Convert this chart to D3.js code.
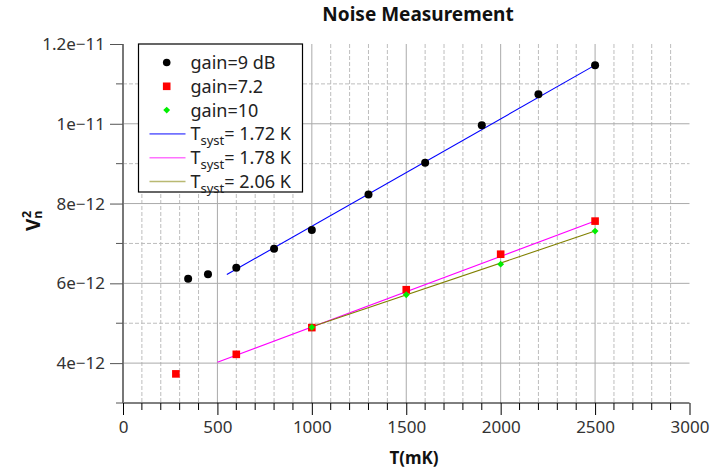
<!DOCTYPE html>
<html><head><meta charset="utf-8">
<script src="https://cdn.jsdelivr.net/npm/d3@7"></script>
<style>body{margin:0;background:#fff}svg{display:block;font-family:"Noto Sans",sans-serif}</style>
</head><body><svg id="c" width="727" height="476"></svg>
<script>
// ---- data ----
const blackT = [345, 450, 600, 800, 1000, 1300, 1600, 1900, 2200, 2500];
const blackV = [6.115e-12, 6.225e-12, 6.39e-12, 6.865e-12, 7.34e-12, 8.225e-12, 9.025e-12, 9.96e-12, 10.74e-12, 11.465e-12];
const redT = [280, 600, 1000, 1500, 2000, 2500];
const redV = [3.73e-12, 4.22e-12, 4.89e-12, 5.84e-12, 6.73e-12, 7.56e-12];
const greenT = [1000, 1500, 2000, 2500];
const greenV = [4.9e-12, 5.715e-12, 6.48e-12, 7.31e-12];
const fitBlueT = [550, 2500];
const fitBlueV = [6.22e-12, 11.47e-12];
const fitPinkT = [500, 2500];
const fitPinkV = [4.02e-12, 7.56e-12];
const fitOliveT = [1000, 2500];
const fitOliveV = [4.91e-12, 7.31e-12];
const xMajor = [0, 500, 1000, 1500, 2000, 2500, 3000];
const yMajor = [4e-12, 6e-12, 8e-12, 10e-12, 12e-12];
const yMajorLabels = ["4e\u221212", "6e\u221212", "8e\u221212", "1e\u221211", "1.2e\u221211"];
const yMinor = [3e-12, 5e-12, 7e-12, 9e-12, 11e-12];
const legendLabels = ["gain=9 dB", "gain=7.2", "gain=10", "1.72 K", "1.78 K", "2.06 K"];

const svg = d3.select("#c");
const x = d3.scaleLinear().domain([0, 3000]).range([123, 689.5]);
const y = d3.scaleLinear().domain([3e-12, 12e-12]).range([403, 44]);
const xMinor = d3.range(100, 3000, 100).filter(v => v % 500 !== 0);

// grid
const g = svg.append("g");
g.selectAll(".vmin").data(xMinor).join("line")
  .attr("x1", d => x(d)).attr("x2", d => x(d)).attr("y1", y(12e-12)).attr("y2", y(3e-12))
  .attr("stroke", "#bdbdbd").attr("stroke-dasharray", "4,2");
g.selectAll(".hmin").data(yMinor.slice(1)).join("line")
  .attr("x1", x(0)).attr("x2", x(3000)).attr("y1", d => y(d)).attr("y2", d => y(d))
  .attr("stroke", "#bdbdbd").attr("stroke-dasharray", "4,2");
g.selectAll(".vmaj").data(xMajor.slice(1, -1)).join("line")
  .attr("x1", d => x(d)).attr("x2", d => x(d)).attr("y1", y(12e-12)).attr("y2", y(3e-12))
  .attr("stroke", "#aaaaaa");
g.selectAll(".hmaj").data(yMajor.slice(0, -1)).join("line")
  .attr("x1", x(0)).attr("x2", x(3000)).attr("y1", d => y(d)).attr("y2", d => y(d))
  .attr("stroke", "#aaaaaa");

// axes
const xAx = svg.append("g").attr("transform", `translate(0,${y(3e-12)})`);
xAx.call(d3.axisBottom(x).tickValues(xMajor).tickSize(12).tickPadding(6).tickFormat(d3.format("d")));
xAx.append("g").selectAll("line").data(xMinor).join("line")
  .attr("x1", d => x(d)).attr("x2", d => x(d)).attr("y1", 0).attr("y2", 7).attr("stroke", "#000");
xAx.selectAll("path.domain").attr("stroke", "#000").attr("d", `M${x(0)},0H${x(3000)}`);
xAx.selectAll(".tick line").attr("stroke", "#000");
xAx.selectAll("text").attr("font-size", 17).attr("fill", "#333").attr("font-family", "Noto Sans");

const yAx = svg.append("g").attr("transform", `translate(${x(0)},0)`);
yAx.call(d3.axisLeft(y).tickValues(yMajor).tickSize(13).tickPadding(5).tickFormat((d, i) => yMajorLabels[i]));
yAx.append("g").selectAll("line").data(yMinor).join("line")
  .attr("x1", -7).attr("x2", 0).attr("y1", d => y(d)).attr("y2", d => y(d)).attr("stroke", "#555");
yAx.selectAll("path.domain").attr("stroke", "#777").attr("stroke-width", 2).attr("d", `M0,${y(12e-12)}V${y(3e-12)}`);
yAx.selectAll(".tick line").attr("stroke", "#555");
yAx.selectAll("text").attr("font-size", 17).attr("fill", "#333").attr("font-family", "Noto Sans");

// fit lines
const line = d3.line().x(d => x(d[0])).y(d => y(d[1]));
const fits = [[fitBlueT, fitBlueV, "#0000ff"], [fitPinkT, fitPinkV, "#ff00ff"], [fitOliveT, fitOliveV, "#808000"]];
fits.forEach(([t, v, c]) => {
  svg.append("path").datum(d3.zip(t, v)).attr("d", line).attr("fill", "none").attr("stroke", c).attr("stroke-width", 1.1);
});

// points
svg.append("g").selectAll("circle").data(d3.zip(blackT, blackV)).join("circle")
  .attr("cx", d => x(d[0])).attr("cy", d => y(d[1])).attr("r", 4).attr("fill", "#000");
svg.append("g").selectAll("rect").data(d3.zip(redT, redV)).join("rect")
  .attr("x", d => x(d[0]) - 3.8).attr("y", d => y(d[1]) - 3.8).attr("width", 7.6).attr("height", 7.6).attr("fill", "#ff0000");
const diamond = d3.symbol().type(d3.symbolDiamond2).size(30);
svg.append("g").selectAll("path").data(d3.zip(greenT, greenV)).join("path")
  .attr("transform", d => `translate(${x(d[0])},${y(d[1])})`).attr("d", diamond).attr("fill", "#00ee00");

// legend
const lg = svg.append("g");
lg.append("rect").attr("x", 138.5).attr("y", 44).attr("width", 164).attr("height", 148)
  .attr("fill", "#fff").attr("stroke", "#000").attr("stroke-width", 1.2);
const rowY = i => 62.5 + i * 23.8;
const mx = 166.7, tx = 190.5;
lg.append("circle").attr("cx", mx).attr("cy", rowY(0)).attr("r", 3.8).attr("fill", "#000");
lg.append("rect").attr("x", mx - 3.8).attr("y", rowY(1) - 3.8).attr("width", 7.6).attr("height", 7.6).attr("fill", "#ff0000");
lg.append("path").attr("transform", `translate(${mx},${rowY(2)})`).attr("d", diamond).attr("fill", "#00ee00");
["#0000ff", "#ff00ff", "#808000"].forEach((c, i) => {
  lg.append("line").attr("x1", 149.5).attr("x2", 185.5).attr("y1", rowY(3 + i)).attr("y2", rowY(3 + i))
    .attr("stroke", c).attr("stroke-width", 1.6).attr("opacity", 0.55);
});
legendLabels.forEach((s, i) => {
  const t = lg.append("text").attr("x", tx).attr("y", rowY(i) + 6.5).attr("font-size", 18).attr("fill", "#222");
  if (i < 3) t.text(s);
  else {
    t.append("tspan").text("T");
    t.append("tspan").text("syst").attr("font-size", 13).attr("dy", 5);
    t.append("tspan").text("= " + s).attr("dy", -5);
  }
});

// titles
svg.append("text").attr("x", 418).attr("y", 20.5).attr("text-anchor", "middle")
  .attr("font-size", 19).attr("font-weight", "bold").attr("fill", "#111").text("Noise Measurement");
svg.append("text").attr("x", 414).attr("y", 464).attr("text-anchor", "middle")
  .attr("font-size", 17).attr("font-weight", "bold").attr("fill", "#111").text("T(mK)");
const yl = svg.append("text").attr("transform", "translate(40,231) rotate(-90)")
  .attr("font-weight", "bold").attr("fill", "#111").attr("font-size", 19);
yl.append("tspan").text("V");
yl.append("tspan").text("n").attr("font-size", 12.5).attr("dy", 2);
yl.append("tspan").text("2").attr("font-size", 12.5).attr("dx", -7.5).attr("dy", -11);
</script></body></html>
